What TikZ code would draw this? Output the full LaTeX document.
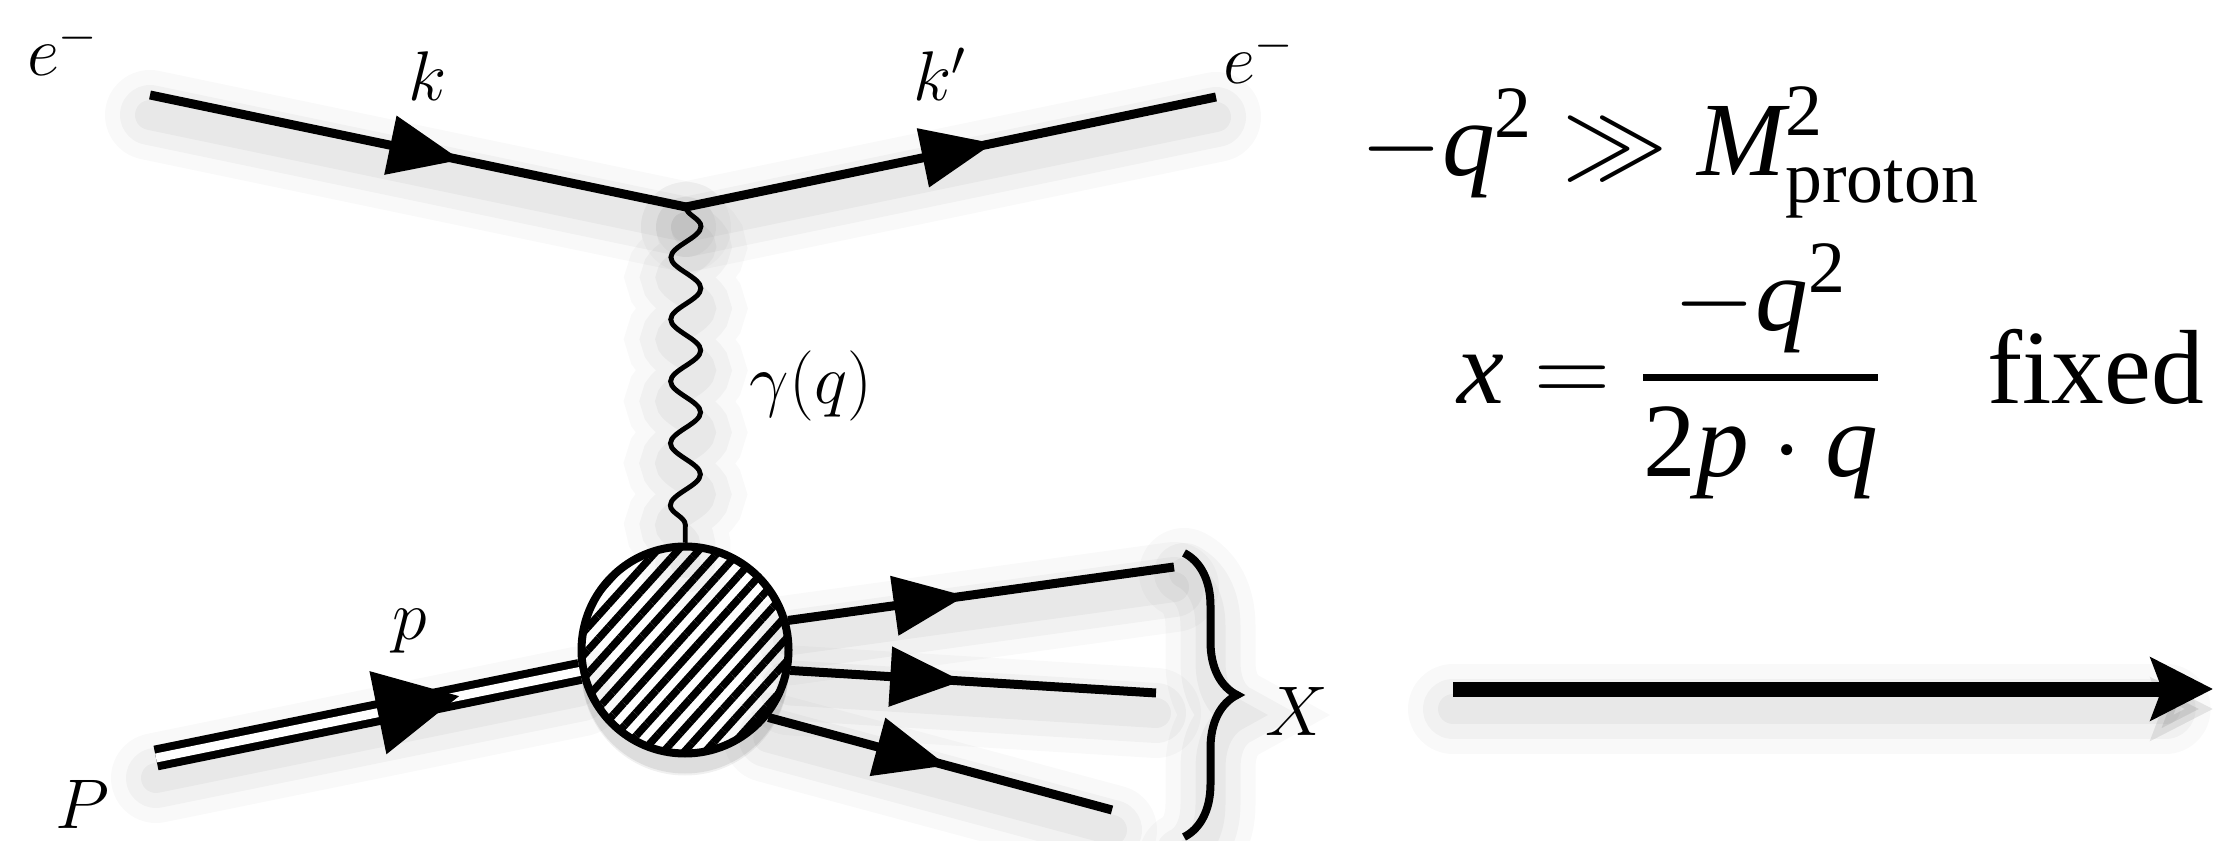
\RequirePackage{fix-cm}
\documentclass[tikz,border=0pt]{standalone}
\usepackage{amsmath}
\usepackage{fontspec}
\usepackage{tikz}
\usetikzlibrary{arrows.meta,decorations.markings,decorations.pathmorphing,decorations.pathreplacing,patterns.meta}
\newfontfamily\tmsf{Liberation Serif}
\newcommand{\tv}[1]{\text{\tmsf\itshape #1}}
\newcommand{\tn}[1]{\text{\tmsf #1}}

\begin{document}
\begin{tikzpicture}[
  font=\fontsize{20}{24}\selectfont,
  lbl/.style={inner sep=0pt},
  eq/.style={inner sep=0pt, font=\fontsize{30}{36}\selectfont},
  shd/.style={preaction={draw=black, opacity=0.025, line width=0.9cm, line cap=round, transform canvas={yshift=-0.2cm}},
              preaction={draw=black, opacity=0.03, line width=0.6cm, line cap=round, transform canvas={yshift=-0.2cm}},
              preaction={draw=black, opacity=0.035, line width=0.3cm, line cap=round, transform canvas={yshift=-0.2cm}}},
  fermion/.style={shd, line width=0.09cm, postaction={decorate},
    decoration={markings, mark=at position #1 with {\arrow{Triangle[length=0.72cm, width=0.58cm]}}}},
  proton/.style={shd, line width=0.25cm, postaction={draw=white, line width=0.09cm},
    postaction={decorate, decoration={markings, mark=at position #1 with {\arrow{Triangle[length=0.85cm, width=0.78cm]}}}}},
  photon/.style={shd, line width=1.4pt, decorate, decoration={snake, segment length=0.62cm, amplitude=0.15cm}},
  blob/.style={circle, draw, line width=0.08cm, minimum size=2.07cm, inner sep=0pt,
    preaction={fill=black, opacity=0.06, transform canvas={yshift=-0.22cm}, scale=1.15},
    preaction={fill=black, opacity=0.08, transform canvas={yshift=-0.2cm}},
    preaction={fill=white}, pattern={Lines[angle=48, distance=0.155cm, line width=0.075cm]}}]

  \useasboundingbox (0,0) rectangle (22.29,8.40);

  % vertex and line ends
  \coordinate (ein) at (1.50,7.45);
  \coordinate (vtx) at (6.86,6.33);
  \coordinate (eout) at (12.16,7.43);
  \coordinate (pin) at (1.56,0.82);
  \coordinate (x1) at (11.74,2.73);
  \coordinate (x2) at (11.56,1.47);
  \coordinate (x3) at (11.12,0.30);
  \coordinate (brT) at (11.84,2.87);
  \coordinate (brB) at (11.84,0.03);
  \coordinate (arrL) at (14.53,1.51);
  \coordinate (arrR) at (22.13,1.51);

  \node[blob] (blob) at (6.85,1.90) {};

  \draw[fermion=0.58] (ein) -- (vtx);
  \draw[fermion=0.58] (vtx) -- (eout);
  \draw[photon] (vtx) -- (blob);
  \draw[proton=0.72] (pin) -- (blob);
  \draw[fermion=0.46] (blob.16) -- (x1);
  \draw[fermion=0.47] (blob.-11) -- (x2);
  \draw[fermion=0.52] (blob.-39) -- (x3);

  \draw[shd, line width=0.08cm, decorate, decoration={brace, amplitude=0.53cm}] (brT) -- (brB);

  \node[lbl, anchor=base] (eL) at (0.63,7.64) {$e^-$};
  \node[lbl, anchor=base] (eR) at (12.59,7.56) {$e^-$};
  \node[lbl, anchor=base] (kIn) at (4.28,7.39) {$k$};
  \node[lbl, anchor=base] (kOut) at (9.40,7.39) {$k'$};
  \node[lbl] (gam) at (8.11,4.54) {$\gamma(q)$};
  \node[lbl, anchor=base] (pIn) at (4.10,2.00) {$p$};
  \node[lbl, anchor=base] (PIn) at (0.82,0.12) {$P$};
  \node[lbl, anchor=base] (xLab) at (12.97,1.05) {$X$};

  % kinematic limit
  \node[eq, anchor=base] (cond) at (16.70,6.64)
    {$-\tv{q}^{\tn{2}} \gg \tv{M}^{\tn{2}}_{\tn{proton}}$};
  \node[eq, anchor=base] (xdef) at (18.31,4.36)
    {$\tv{x} = \genfrac{}{}{2pt}{0}{-\tv{q}^{\tn{2}}}{\tn{2}\tv{p}\cdot\tv{q}}\quad\tn{fixed}$};

  \draw[shd, line width=0.15cm, -{Stealth[length=0.62cm, width=0.62cm, inset=0.11cm]}] (arrL) -- (arrR);
\end{tikzpicture}
\end{document}
